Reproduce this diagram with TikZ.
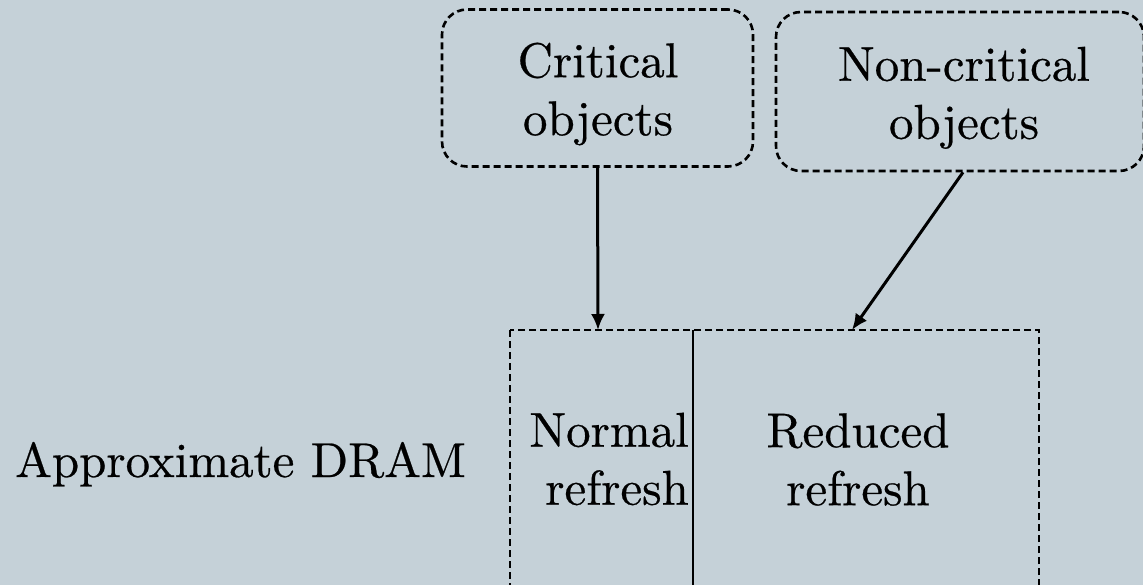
\documentclass[tikz,border=0pt]{standalone}
\usepackage{fontspec}
\setmainfont{lmroman10-regular.otf}[FakeBold=0.5]
\usetikzlibrary{arrows.meta}
\definecolor{slidebg}{RGB}{197,209,216}
\begin{document}
\begin{tikzpicture}[x=1pt,y=-1pt,
  txt/.style={inner sep=0pt, font=\fontsize{49}{58}\selectfont, align=center},
  objbox/.style={draw, line width=2.6pt, dash pattern=on 7pt off 4pt,
                 rounded corners=25pt, inner sep=0pt},
  cellline/.style={line width=2.6pt, dash pattern=on 7pt off 4pt},
  flow/.style={line width=3pt, -{Latex[length=16pt,width=14pt]}}]
  % canvas
  \fill[slidebg] (0,0) rectangle (1143,585);
  \useasboundingbox (0,0) rectangle (1143,585);
  \clip (0,0) rectangle (1143,585);

  % object classes
  \node[objbox, minimum width=311pt, minimum height=157pt] (crit) at (597.5,88) {};
  \node[objbox, minimum width=368pt, minimum height=159pt] (noncrit) at (960,91.5) {};
  \node[txt] (critlbl) at (598,94) {Critical\\objects};
  \node[txt] (noncritlbl) at (964,97.8) {Non-critical\\objects};

  % DRAM regions
  \coordinate (dtl) at (510,330);
  \coordinate (dtr) at (1039,330);
  \coordinate (dbl) at (510,650);
  \coordinate (dbr) at (1039,650);
  \coordinate (divtop) at (693,330);
  \coordinate (divbot) at (693,650);
  \draw[cellline] (dtl) rectangle (dbr);
  \draw[line width=2.8pt] (divtop) -- (divbot);
  \node[txt, align=right, anchor=east] (normal) at (689,459) {Normal\\refresh};
  \node[txt] (reduced) at (858,459.5) {Reduced\\refresh};
  \node[txt, anchor=base west] (dram) at (15,477) {Approximate DRAM};

  % mappings
  \coordinate (normtop) at (598,330);
  \coordinate (redtop) at (852,330);
  \draw[flow] (crit.south) -- (normtop);
  \draw[flow] ([xshift=3pt]noncrit.south) -- (redtop);
\end{tikzpicture}
\end{document}
